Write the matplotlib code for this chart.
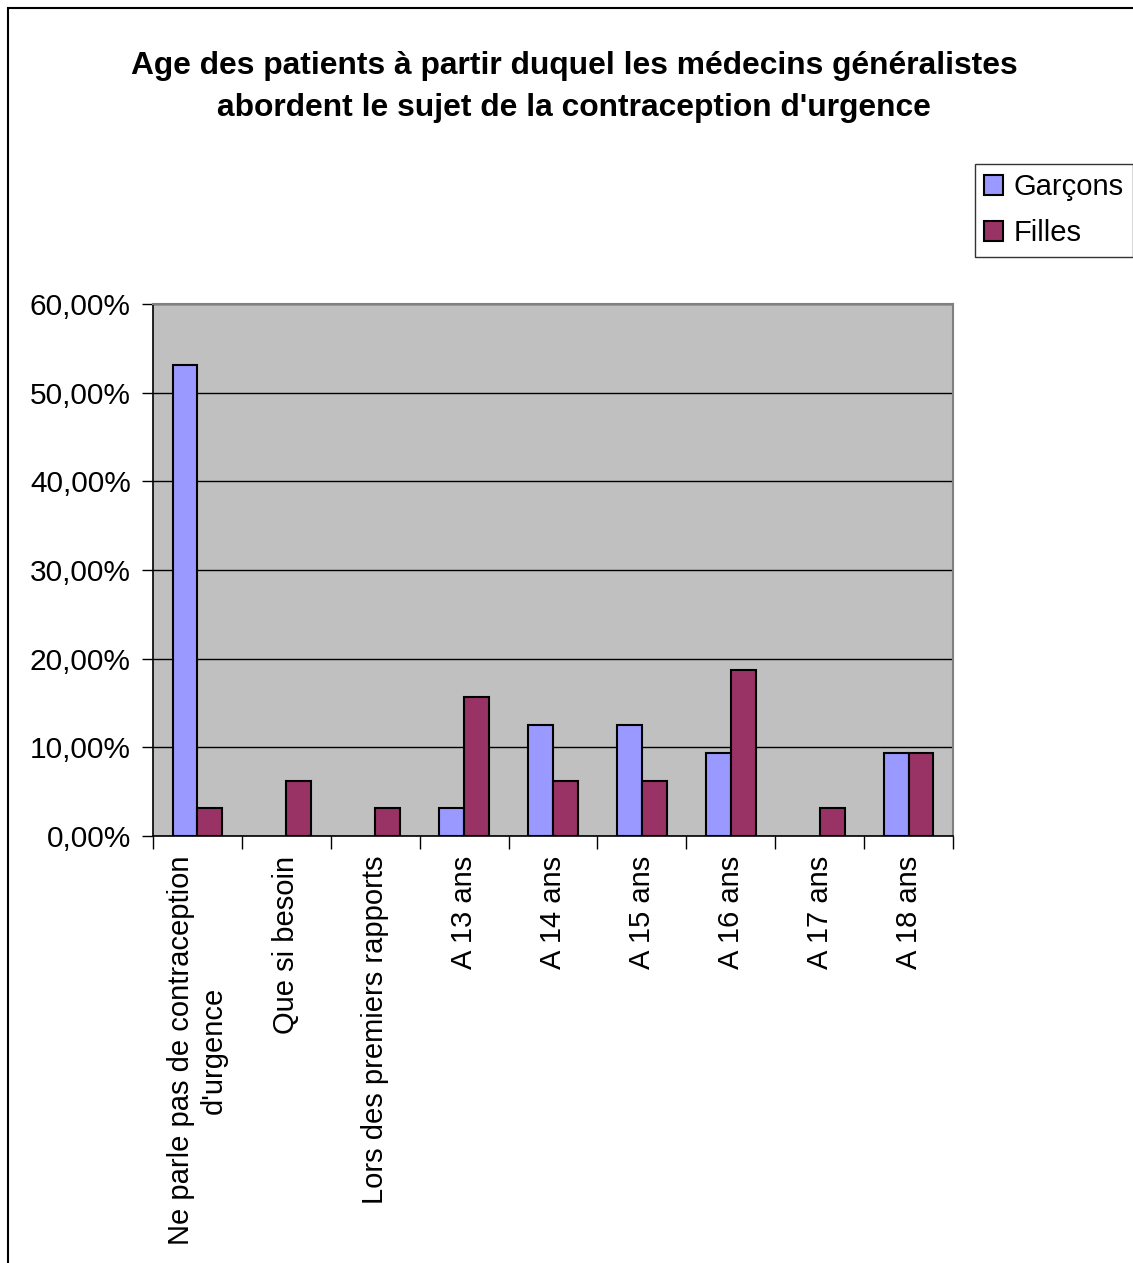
import matplotlib
matplotlib.use("Agg")
import matplotlib.pyplot as plt
import numpy as np
from matplotlib.patches import Rectangle

categories = ["Ne parle pas de contraception\nd'urgence", "Que si besoin",
              "Lors des premiers rapports", "A 13 ans", "A 14 ans", "A 15 ans",
              "A 16 ans", "A 17 ans", "A 18 ans"]
garcons = [53.13, 0, 0, 3.13, 12.5, 12.5, 9.38, 0, 9.38]
filles = [3.13, 6.25, 3.13, 15.63, 6.25, 6.25, 18.75, 3.13, 9.38]
yticks = [0, 10, 20, 30, 40, 50, 60]
ytick_labels = ["0,00%", "10,00%", "20,00%", "30,00%", "40,00%", "50,00%", "60,00%"]

plt.rcParams['font.family'] = ['Liberation Sans', 'DejaVu Sans']

fig = plt.figure(figsize=(11.33, 12.63), dpi=100)
ax = fig.add_axes([153/1133, 1-836/1263, 800/1133, 532/1263])
ax.set_facecolor('#c0c0c0')

x = np.arange(len(categories))
w = 0.28
b1 = ax.bar(x - w/2, garcons, w, color='#9999ff', edgecolor='black', linewidth=1.5, zorder=3, label='Garçons')
b2 = ax.bar(x + w/2, filles, w, color='#993366', edgecolor='black', linewidth=1.5, zorder=3, label='Filles')
for cont in (b1, b2):
    for p in cont.patches:
        if p.get_height() == 0:
            p.set_visible(False)

ax.set_xlim(-0.5, len(categories) - 0.5)
ax.set_ylim(0, 60)
ax.set_yticks(yticks)
ax.set_yticklabels(ytick_labels, fontsize=21.5)
ax.yaxis.grid(True, color='black', linewidth=1, zorder=1)
ax.set_axisbelow(True)

ax.set_xticks(np.arange(-0.5, len(categories), 1.0))
ax.set_xticklabels([])
ax.set_xticks(x, minor=True)
ax.set_xticklabels(categories, minor=True, rotation=90, fontsize=21, ha='center', va='top', multialignment='center')
ax.tick_params(axis='x', which='minor', length=0, pad=14)
ax.tick_params(axis='x', which='major', length=9, width=1, direction='out')
ax.tick_params(axis='y', length=8, width=1, direction='out', pad=8)

for s in ['top', 'right']:
    ax.spines[s].set_color('#808080')
    ax.spines[s].set_linewidth(1.5)
for s in ['left', 'bottom']:
    ax.spines[s].set_color('black')
    ax.spines[s].set_linewidth(1.2)

fig.text(574/1133, 1-66/1263, "Age des patients à partir duquel les médecins généralistes",
         ha='center', va='center', fontsize=22.9, fontweight='bold')
fig.text(574/1133, 1-108/1263, "abordent le sujet de la contraception d'urgence",
         ha='center', va='center', fontsize=22.9, fontweight='bold')

leg = fig.legend(loc='upper left', bbox_to_anchor=(975/1133, 1-164/1263), fontsize=21,
                 frameon=True, fancybox=False, edgecolor='black', handlelength=0.65,
                 handleheight=0.65, handletextpad=0.35, borderpad=0.32, labelspacing=0.62,
                 borderaxespad=0)
leg.get_frame().set_linewidth(1)

fig.patches.append(Rectangle((8/1133, -0.1), 1.2, 1 - 8/1263 + 0.1, transform=fig.transFigure,
                             fill=False, edgecolor='black', linewidth=1.5))

fig.savefig("out.png", dpi=100)
